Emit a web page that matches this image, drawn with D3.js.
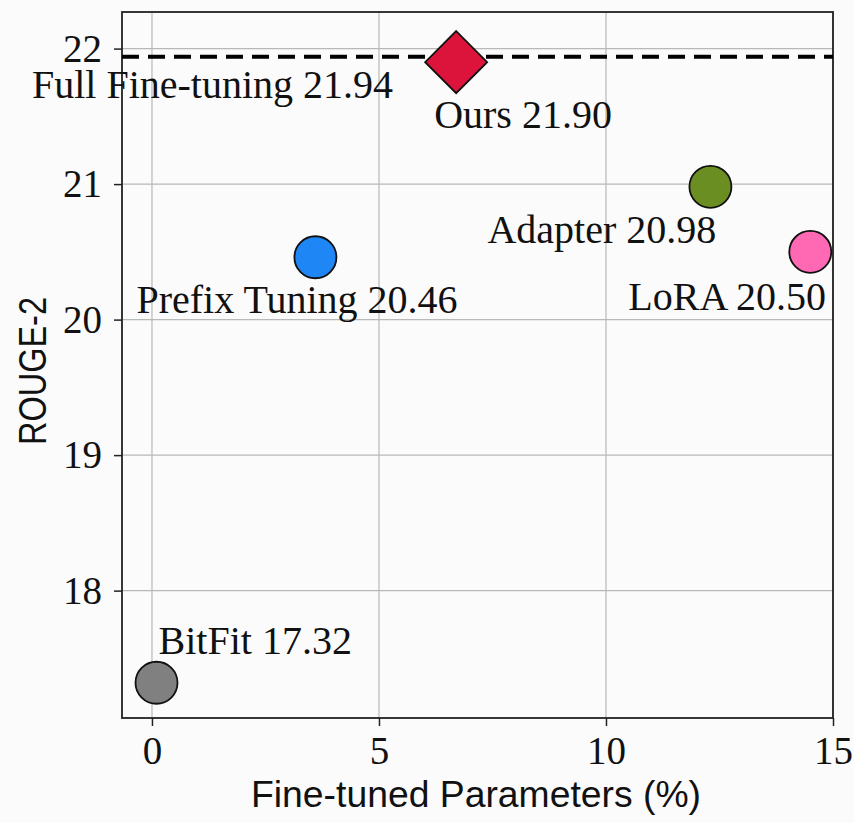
<!DOCTYPE html>
<html><head><meta charset="utf-8">
<script src="https://cdn.jsdelivr.net/npm/d3@7"></script>
<style>
html,body{margin:0;padding:0;background:#fbfbfb;}
svg{display:block;}
</style></head>
<body>
<svg id="chart" width="854" height="823"></svg>
<script>
// ---- data ----
const methods = ["BitFit", "Prefix Tuning", "Ours", "Adapter", "LoRA"];
const params  = [0.1, 3.6, 6.7, 12.3, 14.5];        // fine-tuned parameters (%)
const rouge2  = [17.32, 20.46, 21.90, 20.98, 20.50];
const colors  = ["#808080", "#1e87f5", "#dc143c", "#6b8e23", "#ff69b4"];
const shapes  = ["circle", "circle", "diamond", "circle", "circle"];
const fullFT  = {name: "Full Fine-tuning", value: 21.94};
const xTicks  = [0, 5, 10, 15];
const yTicks  = [18, 19, 20, 21, 22];

// label placement (pixel offsets from point, layout only)
const labelOffsets = [[2,-29],[-179,56],[-22,66],[-223,56],[-182,58]];

const svg = d3.select("#chart");
const m = {l:122, t:12, r:833, b:718};
const x = d3.scaleLinear().domain([-0.66, 15.0]).range([m.l, m.r]);
const y = d3.scaleLinear().domain([17.06, 22.27]).range([m.b, m.t]);

const serif = "'Liberation Serif','Times New Roman',serif";
const sans = "'Liberation Sans','DejaVu Sans',sans-serif";

// grid
const g = svg.append("g");
g.selectAll(".vg").data(xTicks).join("line")
  .attr("x1", d=>x(d)).attr("x2", d=>x(d)).attr("y1", m.t).attr("y2", m.b)
  .attr("stroke", "#b8b8b8").attr("stroke-width", 1.2);
g.selectAll(".hg").data(yTicks).join("line")
  .attr("x1", m.l).attr("x2", m.r).attr("y1", d=>y(d)).attr("y2", d=>y(d))
  .attr("stroke", "#b8b8b8").attr("stroke-width", 1.2);

// axes
const xAxis = d3.axisBottom(x).tickValues(xTicks).tickSize(8).tickSizeOuter(0).tickPadding(10).tickFormat(d3.format("d"));
const yAxis = d3.axisLeft(y).tickValues(yTicks).tickSize(8).tickSizeOuter(0).tickPadding(12).tickFormat(d3.format("d"));
const xg = svg.append("g").attr("transform", `translate(0,${m.b})`).call(xAxis);
const yg = svg.append("g").attr("transform", `translate(${m.l},0)`).call(yAxis);
[xg, yg].forEach(a => {
  a.select(".domain").remove();
  a.selectAll("line").attr("stroke", "#222").attr("stroke-width", 1.5);
  a.selectAll("text").attr("font-family", serif).attr("font-size", 39).attr("fill", "#111");
});
yg.selectAll("text").attr("dy", "0.33em");

// frame
svg.append("rect").attr("x", m.l).attr("y", m.t).attr("width", m.r-m.l).attr("height", m.b-m.t)
  .attr("fill", "none").attr("stroke", "#222").attr("stroke-width", 1.8);

// full fine-tuning dashed line
svg.append("line").attr("x1", m.l).attr("x2", m.r).attr("y1", y(fullFT.value)).attr("y2", y(fullFT.value))
  .attr("stroke", "#000").attr("stroke-width", 4).attr("stroke-dasharray", "17,9");

// points
const pts = methods.map((n,i)=>({name:n, x:params[i], y:rouge2[i], c:colors[i], s:shapes[i], o:labelOffsets[i]}));
pts.forEach(p => {
  if (p.s === "diamond") {
    const cx = x(p.x), cy = y(p.y), r = 31;
    svg.append("path").attr("d", `M${cx},${cy-r}L${cx+r},${cy}L${cx},${cy+r}L${cx-r},${cy}Z`)
      .attr("fill", p.c).attr("stroke", "#111").attr("stroke-width", 1.8);
  } else {
    svg.append("circle").attr("cx", x(p.x)).attr("cy", y(p.y)).attr("r", 21)
      .attr("fill", p.c).attr("stroke", "#111").attr("stroke-width", 1.8);
  }
});

// labels
pts.forEach(p => {
  svg.append("text").attr("x", x(p.x)+p.o[0]).attr("y", y(p.y)+p.o[1])
    .attr("font-family", serif).attr("font-size", 40).attr("fill", "#111")
    .text(`${p.name} ${p.y.toFixed(2)}`);
});
svg.append("text").attr("x", x(0)-120).attr("y", y(fullFT.value)+41)
  .attr("font-family", serif).attr("font-size", 40).attr("fill", "#111")
  .text(`${fullFT.name} ${fullFT.value.toFixed(2)}`);

// axis titles
svg.append("text").attr("x", 251).attr("y", 807)
  .attr("font-family", sans).attr("font-size", 37).attr("fill", "#111")
  .attr("textLength", 450).attr("lengthAdjust", "spacingAndGlyphs")
  .text("Fine-tuned Parameters (%)");
svg.append("text").attr("transform", `translate(46,445) rotate(-90)`)
  .attr("font-family", sans).attr("font-size", 38).attr("fill", "#111")
  .attr("textLength", 148).attr("lengthAdjust", "spacingAndGlyphs")
  .text("ROUGE-2");
</script>
</body></html>
